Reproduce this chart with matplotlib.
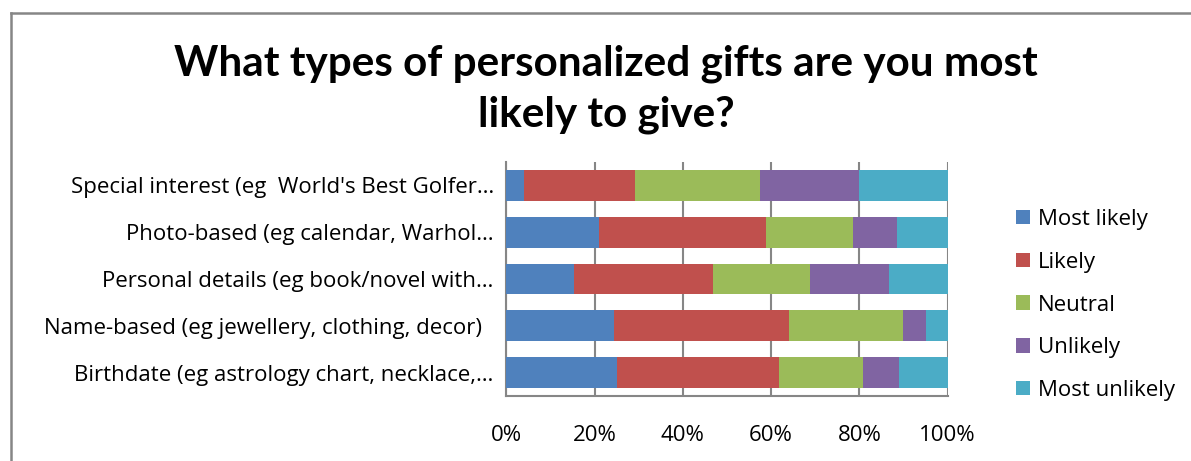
import numpy as np
import matplotlib
matplotlib.use("Agg")
from matplotlib import pyplot as plt
from matplotlib.lines import Line2D
from matplotlib.patches import Patch

categories = [
    "Special interest (eg  World's Best Golfer…",
    "Photo-based (eg calendar, Warhol…",
    "Personal details (eg book/novel with…",
    "Name-based (eg jewellery, clothing, decor)  ",
    "Birthdate (eg astrology chart, necklace,…",
]
responses = ["Most likely", "Likely", "Neutral", "Unlikely", "Most unlikely"]

# share of answers (%) per category, top to bottom
most_likely   = [3.9, 21.0, 15.3, 24.3, 25.1]
likely        = [25.2, 37.8, 31.5, 39.7, 36.7]
neutral       = [28.3, 19.7, 22.0, 25.9, 19.0]
unlikely      = [22.6, 10.0, 17.9, 5.2, 8.2]
most_unlikely = [20.0, 11.5, 13.3, 4.9, 11.0]

colors = ["#4F81BD", "#C0504D", "#9BBB59", "#8064A2", "#4BACC6"]

plt.rcParams['font.family'] = ['Open Sans', 'DejaVu Sans']

fig = plt.figure(figsize=(11.91, 4.61), dpi=100)
ax = fig.add_axes([0.4251, 0.141, 0.3706, 0.5076])

y = np.arange(len(categories))
left = np.zeros(len(categories))
series = [most_likely, likely, neutral, unlikely, most_unlikely]
for vals, col, name in zip(series, colors, responses):
    vals = np.array(vals)
    ax.barh(y, vals, left=left, height=0.66, color=col, label=name, zorder=3)
    left += vals

ax.set_xlim(0, 100)
ax.set_ylim(len(categories) - 0.5, -0.5)
ax.set_xticks([0, 20, 40, 60, 80, 100])
ax.set_xticklabels(["0%", "20%", "40%", "60%", "80%", "100%"], fontsize=16)
ax.set_yticks(y)
ax.set_yticklabels(categories, fontsize=16)
ax.tick_params(axis='x', length=0, pad=21)
ax.tick_params(axis='y', length=0, pad=9)
ax.grid(axis='x', color="#868686", linewidth=1.5, zorder=0)
for s in ["top", "right"]:
    ax.spines[s].set_visible(False)
for s in ["left", "bottom"]:
    ax.spines[s].set_color("#868686")
    ax.spines[s].set_linewidth(1.5)

fig.text(0.509, 0.806, "What types of personalized gifts are you most\nlikely to give?",
         ha="center", va="center", fontsize=30.4, fontweight="bold", linespacing=1.4,
         family=['Lato', 'DejaVu Sans'])

handles = [Patch(facecolor=c, edgecolor="none") for c in colors]
fig.legend(handles, responses, loc="center left", bbox_to_anchor=(1016 / 1191, 1 - 305 / 461),
           frameon=False, fontsize=16, handlelength=0.62, handleheight=0.62,
           handletextpad=0.36, labelspacing=0.98, borderpad=0, borderaxespad=0)

# outer chart border
fig.add_artist(Line2D([11 / 1191, 11 / 1191], [0, 1 - 13 / 461], color="#868686", linewidth=1.8))
fig.add_artist(Line2D([11 / 1191, 1], [1 - 13 / 461, 1 - 13 / 461], color="#868686", linewidth=1.8))

fig.savefig("out.png", dpi=100)
